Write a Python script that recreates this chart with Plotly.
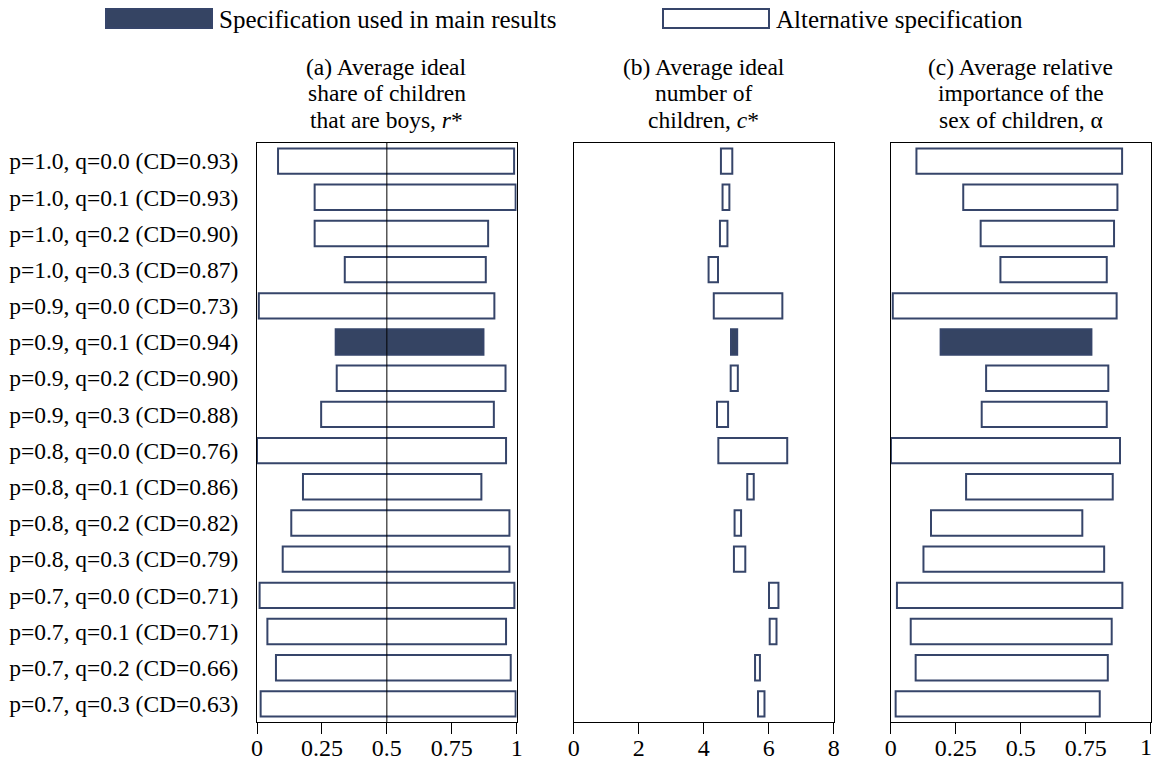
import plotly.graph_objects as go

# ---------------- data ----------------
spec_labels = [
    "p=1.0, q=0.0 (CD=0.93)", "p=1.0, q=0.1 (CD=0.93)", "p=1.0, q=0.2 (CD=0.90)",
    "p=1.0, q=0.3 (CD=0.87)", "p=0.9, q=0.0 (CD=0.73)", "p=0.9, q=0.1 (CD=0.94)",
    "p=0.9, q=0.2 (CD=0.90)", "p=0.9, q=0.3 (CD=0.88)", "p=0.8, q=0.0 (CD=0.76)",
    "p=0.8, q=0.1 (CD=0.86)", "p=0.8, q=0.2 (CD=0.82)", "p=0.8, q=0.3 (CD=0.79)",
    "p=0.7, q=0.0 (CD=0.71)", "p=0.7, q=0.1 (CD=0.71)", "p=0.7, q=0.2 (CD=0.66)",
    "p=0.7, q=0.3 (CD=0.63)",
]
main_spec = "p=0.9, q=0.1 (CD=0.94)"

r_low = [0.081, 0.222, 0.222, 0.338, 0.007, 0.303, 0.307, 0.247,
         0.000, 0.177, 0.132, 0.099, 0.010, 0.040, 0.073, 0.014]
r_high = [0.990, 0.996, 0.890, 0.881, 0.914, 0.872, 0.957, 0.912,
          0.959, 0.864, 0.972, 0.972, 0.991, 0.959, 0.977, 0.996]

c_low = [4.53, 4.58, 4.50, 4.15, 4.31, 4.84, 4.83, 4.41,
         4.45, 5.34, 4.95, 4.93, 6.01, 6.03, 5.58, 5.67]
c_high = [4.88, 4.79, 4.73, 4.44, 6.42, 5.03, 5.05, 4.75,
          6.57, 5.54, 5.15, 5.28, 6.30, 6.24, 5.73, 5.87]

a_low = [0.099, 0.279, 0.346, 0.422, 0.008, 0.192, 0.367, 0.350,
         0.001, 0.290, 0.155, 0.126, 0.024, 0.077, 0.096, 0.019]
a_high = [0.890, 0.872, 0.859, 0.831, 0.869, 0.772, 0.837, 0.831,
          0.882, 0.854, 0.737, 0.821, 0.891, 0.850, 0.835, 0.804]

panel_title_lines = [
    ["(a) Average ideal", "share of children", "that are boys, <i>r</i>*"],
    ["(b) Average ideal", "number of", "children, <i>c</i>*"],
    ["(c) Average relative", "importance of the", "sex of children, \u03b1"],
]
x_ranges = [[0, 1], [0, 8], [0, 1]]
x_ticks = [[0, 0.25, 0.5, 0.75, 1], [0, 2, 4, 6, 8], [0, 0.25, 0.5, 0.75, 1]]
x_ticktext = [["0", "0.25", "0.5", "0.75", "1"], ["0", "2", "4", "6", "8"],
              ["0", "0.25", "0.5", "0.75", "1"]]
ref_line_a = 0.5
legend_names = ["Specification used in main results", "Alternative specification"]

# ---------------- style ----------------
NAVY = "#36456a"
FILL = "#354463"
FONT = "'Liberation Serif', 'Times New Roman', Times, 'DejaVu Serif', serif"
FS_YTICK = 23.5
FS_XTICK = 24
FS_TITLE = 23.5
FS_LEG = 25

W, H = 1153, 761
ML, MR, MT, MB = 257, 2, 143, 39
PW, PH = W - ML - MR, H - MT - MB


def px_x(px):
    return (px - ML) / PW


def px_y(py):
    return (H - MB - py) / PH


fig = go.Figure()
panels = [(r_low, r_high), (c_low, c_high), (a_low, a_high)]
domains = [[px_x(257), px_x(516.7)], [px_x(573.7), px_x(833.7)], [px_x(890.7), px_x(1150.7)]]

for i, (lo, hi) in enumerate(panels):
    xa = "x" if i == 0 else f"x{i+1}"
    ya = "y" if i == 0 else f"y{i+1}"
    is_main = [lab == main_spec for lab in spec_labels]
    fills = [FILL if m else "white" for m in is_main]
    fig.add_trace(go.Bar(
        y=spec_labels,
        x=[h - l for l, h in zip(lo, hi)],
        base=lo,
        orientation="h",
        width=0.7,
        marker=dict(color=fills, line=dict(color=NAVY, width=2)),
        xaxis=xa, yaxis=ya, showlegend=False,
        hovertemplate="%{y}: %{base:.2f} - %{x:.2f}<extra></extra>",
    ))

layout = dict(
    width=W, height=H,
    margin=dict(l=ML, r=MR, t=MT, b=MB),
    paper_bgcolor="white", plot_bgcolor="white",
    font=dict(family=FONT, size=FS_YTICK, color="black"),
    barmode="overlay",
    showlegend=False,
)
for i in range(3):
    xk = "xaxis" if i == 0 else f"xaxis{i+1}"
    yk = "yaxis" if i == 0 else f"yaxis{i+1}"
    ya = "y" if i == 0 else f"y{i+1}"
    ttext = list(x_ticktext[i])
    if i == 2:
        ttext[-1] = ""  # drawn separately so it stays inside the page edge
    layout[xk] = dict(
        domain=[max(0, domains[i][0]), min(1, domains[i][1])], anchor=ya, range=x_ranges[i],
        tickvals=x_ticks[i], ticktext=ttext,
        ticks="outside", ticklen=11, tickwidth=1, tickcolor="black",
        ticklabelstandoff=-7,
        showline=True, linecolor="black", linewidth=1, mirror=True,
        showgrid=False, zeroline=False, fixedrange=True, automargin=False,
        tickfont=dict(family=FONT, size=FS_XTICK),
    )
    layout[yk] = dict(
        domain=[0, 1], anchor="x" if i == 0 else f"x{i+1}",
        categoryorder="array", categoryarray=spec_labels,
        range=[len(spec_labels) - 0.5, -0.5],
        showline=True, linecolor="black", linewidth=1, mirror=True,
        showgrid=False, zeroline=False, ticks="", automargin=False,
        showticklabels=(i == 0), ticklabelstandoff=13,
        tickfont=dict(family=FONT, size=FS_YTICK), fixedrange=True,
    )
fig.update_layout(**layout)

# last tick label of panel (c), kept inside the page
fig.add_annotation(text=x_ticktext[2][-1], xref="x3", yref="paper",
                   x=x_ticks[2][-1], y=px_y(747), xanchor="right", yanchor="middle",
                   xshift=3, showarrow=False, font=dict(family=FONT, size=FS_XTICK))

# reference line at r* = 0.5 in panel (a)
fig.add_shape(type="line", xref="x", yref="y domain", x0=ref_line_a, x1=ref_line_a,
              y0=0, y1=1, line=dict(color="black", width=1))

# panel titles (one annotation per line)
title_line_centers = [67.3, 93.5, 119.7]
for i, lines in enumerate(panel_title_lines):
    xr = "x domain" if i == 0 else f"x{i+1} domain"
    for line, cy in zip(lines, title_line_centers):
        fig.add_annotation(text=line, xref=xr, yref="paper", x=0.5, y=px_y(cy),
                           xanchor="center", yanchor="middle", showarrow=False,
                           align="center", font=dict(family=FONT, size=FS_TITLE))

# legend (swatches + text) at top
legend_items = [(106, 212, FILL, legend_names[0]), (663, 769, "white", legend_names[1])]
for x0, x1, col, name in legend_items:
    fig.add_shape(type="rect", xref="paper", yref="paper",
                  x0=px_x(x0), x1=px_x(x1), y0=px_y(28), y1=px_y(9),
                  fillcolor=col, line=dict(color=NAVY, width=2))
    fig.add_annotation(text=name, xref="paper", yref="paper",
                       x=px_x(x1 + 5), y=px_y(19),
                       xanchor="left", yanchor="middle", showarrow=False,
                       font=dict(family=FONT, size=FS_LEG))

fig.write_html("out.html")
